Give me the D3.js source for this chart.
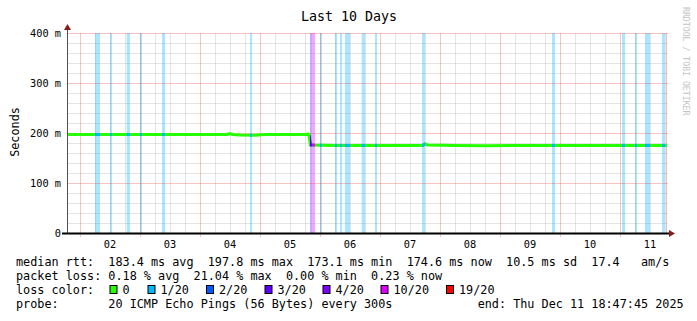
<!DOCTYPE html>
<html>
<head>
<meta charset="utf-8">
<script src="https://cdn.jsdelivr.net/npm/d3@7"></script>
<style>
    body { margin: 0; background: #fff; }
    svg { display: block; font-family: "DejaVu Sans Mono", monospace; }
    text { white-space: pre; }
</style>
</head>
<body>
<div id="chart"></div>
<script>
// time window of the graph
const startTime = '2025-12-01 18:47:45';
const endTime = '2025-12-11 18:47:45';

// median rtt (ms)
const rttTimes = [
    '2025-12-01 18:48:00', '2025-12-02 12:00:00', '2025-12-03 06:00:00', '2025-12-04 06:00:00',
    '2025-12-04 11:00:00', '2025-12-04 12:00:00', '2025-12-04 13:00:00', '2025-12-04 16:00:00',
    '2025-12-04 22:00:00', '2025-12-05 02:00:00', '2025-12-05 18:30:00', '2025-12-05 19:15:00',
    '2025-12-05 19:40:00', '2025-12-05 20:10:00', '2025-12-06 06:00:00', '2025-12-07 12:00:00',
    '2025-12-07 17:00:00', '2025-12-07 18:00:00', '2025-12-07 19:00:00', '2025-12-08 06:00:00',
    '2025-12-08 18:00:00', '2025-12-09 06:00:00', '2025-12-10 12:00:00', '2025-12-11 18:47:00'
];
const rttValues = [
    197, 197, 197, 197,
    197, 199, 197, 196,
    195.5, 197, 197, 198,
    194, 176, 175, 175,
    175, 178, 176, 175,
    174.5, 175, 175, 175
];

// smoke around the step down
const smokeTimes = ['2025-12-05 19:35:00', '2025-12-05 20:00:00'];
const smokeLow = [176, 176];
const smokeHigh = [197, 197];

// loss periods (lost pings out of 20)
const lossStarts = [
    '2025-12-02 06:00', '2025-12-02 12:00', '2025-12-02 18:40', '2025-12-03 00:00',
    '2025-12-03 08:48', '2025-12-04 20:00', '2025-12-05 20:00', '2025-12-05 20:48',
    '2025-12-06 00:00', '2025-12-06 06:00', '2025-12-06 08:00', '2025-12-06 10:00',
    '2025-12-06 16:40', '2025-12-06 22:00', '2025-12-07 16:48', '2025-12-09 20:48',
    '2025-12-11 00:48', '2025-12-11 06:00', '2025-12-11 10:00', '2025-12-11 16:48'
];
const lossEnds = [
    '2025-12-02 08:00', '2025-12-02 12:48', '2025-12-02 20:00', '2025-12-03 00:48',
    '2025-12-03 10:00', '2025-12-04 20:48', '2025-12-05 20:48', '2025-12-05 22:00',
    '2025-12-06 00:48', '2025-12-06 06:48', '2025-12-06 08:48', '2025-12-06 12:00',
    '2025-12-06 18:00', '2025-12-06 22:48', '2025-12-07 18:00', '2025-12-09 22:00',
    '2025-12-11 02:00', '2025-12-11 06:48', '2025-12-11 12:00', '2025-12-11 18:00'
];
const lossCounts = [1, 1, 1, 1, 1, 1, 3, 10, 1, 1, 1, 1, 1, 1, 1, 1, 1, 1, 1, 1];

// loss colour legend
const lossLevels = [0, 1, 2, 3, 4, 10, 19];
const lossLabels = ['0', '1/20', '2/20', '3/20', '4/20', '10/20', '19/20'];
const lossColors = ['#26ff00', '#00b8ff', '#0059ff', '#5e00ff', '#7e00ff', '#dd00ff', '#ff0000'];

// y axis
const yTicks = [0, 100, 200, 300, 400];
const yTickLabels = ['0', '100 m', '200 m', '300 m', '400 m'];

// legend text
const statLines = [
    'median rtt:  183.4 ms avg  197.8 ms max  173.1 ms min  174.6 ms now  10.5 ms sd  17.4   am/s',
    'packet loss: 0.18 % avg  21.04 % max  0.00 % min  0.23 % now'
];
const probeLine = 'probe:       20 ICMP Echo Pings (56 Bytes) every 300s            end: Thu Dec 11 18:47:45 2025';

function drawChart() {
    const width = 697, height = 321;
    const left = 67, right = 667, top = 33, bottom = 233;

    const parse = d3.timeParse('%Y-%m-%d %H:%M:%S');
    const parseShort = d3.timeParse('%Y-%m-%d %H:%M');
    const t0 = parse(startTime), t1 = parse(endTime);

    const x = d3.scaleTime().domain([t0, t1]).range([left, right]);
    const y = d3.scaleLinear().domain([0, 400]).range([bottom, top]);

    const colorOf = d3.scaleOrdinal().domain(lossLevels).range(lossColors);

    const svg = d3.select('#chart').append('svg')
        .attr('width', width)
        .attr('height', height);

    svg.append('rect').attr('width', width).attr('height', height).attr('fill', '#fff');

    // loss background bars
    const losses = lossStarts.map((s, i) => ({
        from: parseShort(s), to: parseShort(lossEnds[i]), count: lossCounts[i]
    }));
    svg.append('g').selectAll('rect')
        .data(losses)
        .enter()
        .append('rect')
        .attr('x', d => x(d.from))
        .attr('width', d => x(d.to) - x(d.from))
        .attr('y', top)
        .attr('height', bottom - top)
        .attr('fill', d => colorOf(d.count))
        .attr('fill-opacity', 0.34);

    // grid
    const grid = svg.append('g');
    const minorGrid = 'rgba(150,150,150,0.26)';
    const majorGrid = 'rgba(230,60,60,0.3)';
    const minorY = d3.range(0, 401, 20).filter(v => v % 100 !== 0);
    grid.selectAll('.hminor').data(minorY).enter().append('line')
        .attr('x1', left).attr('x2', right + 1)
        .attr('y1', d => Math.round(y(d)) + 0.5).attr('y2', d => Math.round(y(d)) + 0.5)
        .attr('stroke', minorGrid);
    const sixHours = d3.timeHour.every(6).range(t0, t1).filter(d => d.getHours() !== 0);
    grid.selectAll('.vminor').data(sixHours).enter().append('line')
        .attr('x1', d => Math.round(x(d)) + 0.5).attr('x2', d => Math.round(x(d)) + 0.5)
        .attr('y1', top).attr('y2', bottom)
        .attr('stroke', minorGrid);
    grid.selectAll('.hmajor').data(yTicks.slice(1)).enter().append('line')
        .attr('x1', left).attr('x2', right + 1)
        .attr('y1', d => Math.round(y(d)) + 0.5).attr('y2', d => Math.round(y(d)) + 0.5)
        .attr('stroke', majorGrid);
    const days = d3.timeDay.range(t0, t1);
    grid.selectAll('.vmajor').data(days).enter().append('line')
        .attr('x1', d => Math.round(x(d)) + 0.5).attr('x2', d => Math.round(x(d)) + 0.5)
        .attr('y1', top).attr('y2', bottom + 4)
        .attr('stroke', majorGrid);
    grid.append('line')
        .attr('x1', right - 0.5).attr('x2', right - 0.5)
        .attr('y1', top).attr('y2', bottom)
        .attr('stroke', 'rgba(230,60,60,0.35)');

    // smoke
    const smoke = smokeTimes.map((t, i) => ({ t: parse(t), lo: smokeLow[i], hi: smokeHigh[i] }));
    svg.append('path')
        .datum(smoke)
        .attr('d', d3.area().x(d => x(d.t)).y0(d => y(d.lo)).y1(d => y(d.hi)).curve(d3.curveStepAfter))
        .attr('fill', '#3a3a3a');

    // median line, coloured by loss
    const rtt = rttTimes.map((t, i) => ({ t: parse(t), v: rttValues[i] }));
    const line = d3.line().x(d => x(d.t)).y(d => y(d.v));
    svg.append('path')
        .datum(rtt)
        .attr('d', line)
        .attr('fill', 'none')
        .attr('stroke', colorOf(0))
        .attr('stroke-width', 3);

    const defs = svg.append('defs');
    losses.forEach((d, i) => {
        defs.append('clipPath').attr('id', 'loss' + i)
            .append('rect')
            .attr('x', x(d.from)).attr('width', x(d.to) - x(d.from))
            .attr('y', top).attr('height', bottom - top);
        svg.append('path')
            .datum(rtt)
            .attr('d', line)
            .attr('fill', 'none')
            .attr('stroke', colorOf(d.count))
            .attr('stroke-width', 3)
            .attr('clip-path', `url(#loss${i})`);
    });

    // axes
    svg.append('line')
        .attr('x1', left + 0.5).attr('x2', left + 0.5)
        .attr('y1', bottom).attr('y2', top - 4)
        .attr('stroke', '#505050');
    svg.append('line')
        .attr('x1', left - 5).attr('x2', right + 4)
        .attr('y1', bottom + 0.5).attr('y2', bottom + 0.5)
        .attr('stroke', '#000')
        .attr('stroke-width', 2);
    svg.append('path')
        .attr('d', `M${left - 3},${top - 3}L${left + 0.5},${top - 9}L${left + 4},${top - 3}Z`)
        .attr('fill', '#8b1a1a');
    svg.append('path')
        .attr('d', `M${right + 2},${bottom - 3}L${right + 8},${bottom + 0.5}L${right + 2},${bottom + 4}Z`)
        .attr('fill', '#8b1a1a');

    // tick labels
    svg.append('g').selectAll('text')
        .data(yTicks)
        .enter()
        .append('text')
        .attr('x', 61)
        .attr('y', d => y(d) + 4)
        .attr('text-anchor', 'end')
        .attr('font-size', '10.3px')
        .attr('fill', '#000')
        .text((d, i) => yTickLabels[i]);

    const noons = days.map(d => d3.timeHour.offset(d, 12)).filter(d => d < t1);
    svg.append('g').selectAll('text')
        .data(noons)
        .enter()
        .append('text')
        .attr('x', d => x(d))
        .attr('y', 248)
        .attr('text-anchor', 'middle')
        .attr('font-size', '10.3px')
        .attr('fill', '#000')
        .text(d3.timeFormat('%d'));

    // title, unit, watermark
    svg.append('text')
        .attr('x', 349).attr('y', 20.5)
        .attr('text-anchor', 'middle')
        .attr('font-size', '13.3px')
        .text('Last 10 Days');
    svg.append('text')
        .attr('transform', 'translate(19,132) rotate(-90)')
        .attr('text-anchor', 'middle')
        .attr('font-size', '11.8px')
        .text('Seconds');
    svg.append('text')
        .attr('transform', 'translate(683,7) rotate(90)')
        .attr('font-size', '8.2px')
        .attr('fill', '#c4c4c4')
        .text('RRDTOOL / TOBI OETIKER');

    // legend
    const legend = svg.append('g').attr('font-size', '11.8px').attr('fill', '#000');
    statLines.forEach((s, i) => {
        legend.append('text').attr('x', 16).attr('y', 266 + i * 14).text(s);
    });
    legend.append('text').attr('x', 16).attr('y', 293.5).text('loss color:');
    const boxX = [109.5, 147.5, 206, 264.5, 322.5, 380.5, 446];
    lossLabels.forEach((lab, i) => {
        legend.append('rect')
            .attr('x', boxX[i] + 0.5).attr('y', 285.5)
            .attr('width', 7).attr('height', 8)
            .attr('fill', lossColors[i])
            .attr('stroke', '#000');
        legend.append('text').attr('x', boxX[i] + 13).attr('y', 293.5).text(lab);
    });
    legend.append('text').attr('x', 16).attr('y', 307.5).text(probeLine);
}

document.addEventListener('DOMContentLoaded', drawChart);
</script>
</body>
</html>
